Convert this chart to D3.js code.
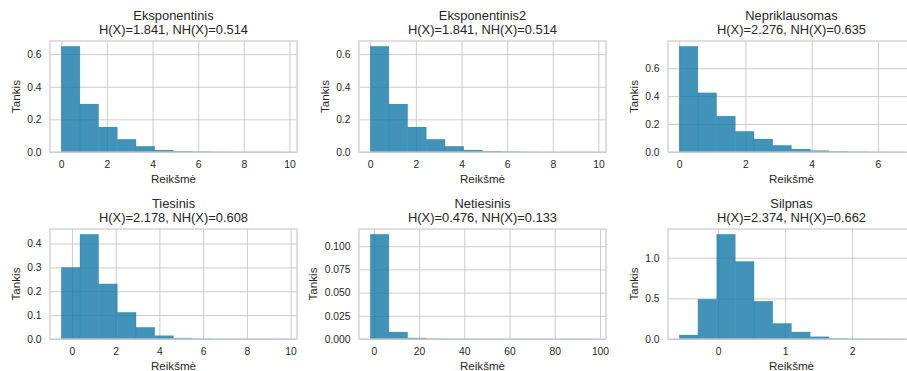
<!DOCTYPE html>
<html>
<head>
<meta charset="utf-8">
<script src="https://cdn.jsdelivr.net/npm/d3@7"></script>
<style>
  body { margin: 0; background: #fff; }
  text { font-family: "Liberation Sans", Arial, sans-serif; fill: #262626; }
</style>
</head>
<body>
<script>
const width = 907;
const height = 371;

// panel texts
const titles = ["Eksponentinis", "Eksponentinis2", "Nepriklausomas", "Tiesinis", "Netiesinis", "Silpnas"];
const entropyLabels = [
  "H(X)=1.841, NH(X)=0.514",
  "H(X)=1.841, NH(X)=0.514",
  "H(X)=2.276, NH(X)=0.635",
  "H(X)=2.178, NH(X)=0.608",
  "H(X)=0.476, NH(X)=0.133",
  "H(X)=2.374, NH(X)=0.662"
];

// histogram range (min, max of data) per panel, 12 bins each
const binRanges = [
  [0, 9.84],
  [0, 9.84],
  [0, 6.78],
  [-0.49, 9.78],
  [-1.6, 97.7],
  [-0.58, 2.77]
];

// densities
const densities = [
  [0.648, 0.294, 0.153, 0.078, 0.035, 0.012, 0.005, 0.002, 0.001, 0.0005, 0.0002, 0.0002],
  [0.648, 0.294, 0.153, 0.078, 0.035, 0.012, 0.005, 0.002, 0.001, 0.0005, 0.0002, 0.0002],
  [0.757, 0.424, 0.257, 0.148, 0.093, 0.048, 0.021, 0.010, 0.004, 0.002, 0.001, 0.0005],
  [0.300, 0.439, 0.231, 0.112, 0.049, 0.014, 0.004, 0.001, 0.0005, 0.0002, 0.0001, 0.0001],
  [0.1129, 0.0075, 0.0011, 0.0003, 0.0001, 0.00005, 0.00003, 0.00002, 0.00001, 0.00001, 0.00001, 0.00001],
  [0.049, 0.490, 1.289, 0.955, 0.465, 0.192, 0.086, 0.028, 0.008, 0.003, 0.001, 0.0005]
];

const xTicks = [
  [0, 2, 4, 6, 8, 10],
  [0, 2, 4, 6, 8, 10],
  [0, 2, 4, 6],
  [0, 2, 4, 6, 8, 10],
  [0, 20, 40, 60, 80, 100],
  [0, 1, 2]
];
const yTicks = [
  [0, 0.2, 0.4, 0.6],
  [0, 0.2, 0.4, 0.6],
  [0, 0.2, 0.4, 0.6],
  [0, 0.1, 0.2, 0.3, 0.4],
  [0, 0.025, 0.05, 0.075, 0.1],
  [0, 0.5, 1.0]
];
const yFormats = [".1f", ".1f", ".1f", ".1f", ".3f", ".1f"];

const xLabel = "Reikšmė";
const yLabel = "Tankis";

// layout
const colLeft = [50, 359, 668];
const rowTop = [41, 229];
const axW = 247;
const axH = [111, 110];

const barColor = "#0b75a7";
const gridColor = "#cccccc";

const svg = d3.select("body").append("svg")
  .attr("width", width)
  .attr("height", height);

titles.forEach(function(title, i) {
  var row = Math.floor(i / 3), col = i % 3;
  var left = colLeft[col], top = rowTop[row], h = axH[row];
  var lo = binRanges[i][0], hi = binRanges[i][1];
  var vals = densities[i];
  var n = vals.length;
  var bw = (hi - lo) / n;
  var pad = (hi - lo) * 0.05;

  var x = d3.scaleLinear().domain([lo - pad, hi + pad]).range([0, axW]);
  var y = d3.scaleLinear().domain([0, d3.max(vals) * 1.05]).range([h, 0]);

  var g = svg.append("g").attr("transform", "translate(" + left + "," + top + ")");

  // grid
  var gx = g.append("g")
    .attr("transform", "translate(0," + h + ")")
    .call(d3.axisBottom(x).tickValues(xTicks[i]).tickSize(-h).tickFormat(""));
  var gy = g.append("g")
    .call(d3.axisLeft(y).tickValues(yTicks[i]).tickSize(-axW).tickFormat(""));
  [gx, gy].forEach(function(a) {
    a.select(".domain").remove();
    a.selectAll("line").attr("stroke", gridColor).attr("stroke-width", 1);
  });

  // bars
  g.append("g").selectAll("rect")
    .data(vals)
    .enter().append("rect")
      .attr("x", function(d, j) { return x(lo + j * bw); })
      .attr("width", function(d, j) { return x(lo + (j + 1) * bw) - x(lo + j * bw); })
      .attr("y", function(d) { return y(d); })
      .attr("height", function(d) { return h - y(d); })
      .attr("fill", barColor)
      .attr("fill-opacity", 0.78)
      .attr("stroke", barColor)
      .attr("stroke-opacity", 0.25)
      .attr("stroke-width", 0.6);

  // frame
  g.append("rect")
    .attr("width", axW).attr("height", h)
    .attr("fill", "none")
    .attr("stroke", gridColor)
    .attr("stroke-width", 1.25);

  // tick labels
  var tx = g.append("g")
    .attr("transform", "translate(0," + h + ")")
    .call(d3.axisBottom(x).tickValues(xTicks[i]).tickSize(0).tickPadding(8.5)
      .tickFormat(d3.format("d")));
  var ty = g.append("g")
    .call(d3.axisLeft(y).tickValues(yTicks[i]).tickSize(0).tickPadding(8.5)
      .tickFormat(d3.format(yFormats[i])));
  [tx, ty].forEach(function(a) {
    a.select(".domain").remove();
    a.selectAll("text")
      .attr("fill", "#262626")
      .style("font-family", '"Liberation Sans", Arial, sans-serif')
      .style("font-size", "10.3px");
  });

  var maxW = 0;
  ty.selectAll("text").each(function() {
    maxW = Math.max(maxW, this.getComputedTextLength());
  });

  // axis labels
  g.append("text")
    .attr("x", axW / 2)
    .attr("y", h + 30.5)
    .attr("text-anchor", "middle")
    .style("font-size", "11.6px")
    .text(xLabel);

  g.append("text")
    .attr("transform", "translate(" + (-8.5 - maxW - 7.5) + "," + (h / 2) + ") rotate(-90)")
    .attr("text-anchor", "middle")
    .style("font-size", "11.6px")
    .text(yLabel);

  // title
  g.append("text")
    .attr("x", axW / 2)
    .attr("y", -21.5)
    .attr("text-anchor", "middle")
    .style("font-size", "12.9px")
    .text(title);
  g.append("text")
    .attr("x", axW / 2)
    .attr("y", -7)
    .attr("text-anchor", "middle")
    .style("font-size", "12.9px")
    .text(entropyLabels[i]);
});
</script>
</body>
</html>
